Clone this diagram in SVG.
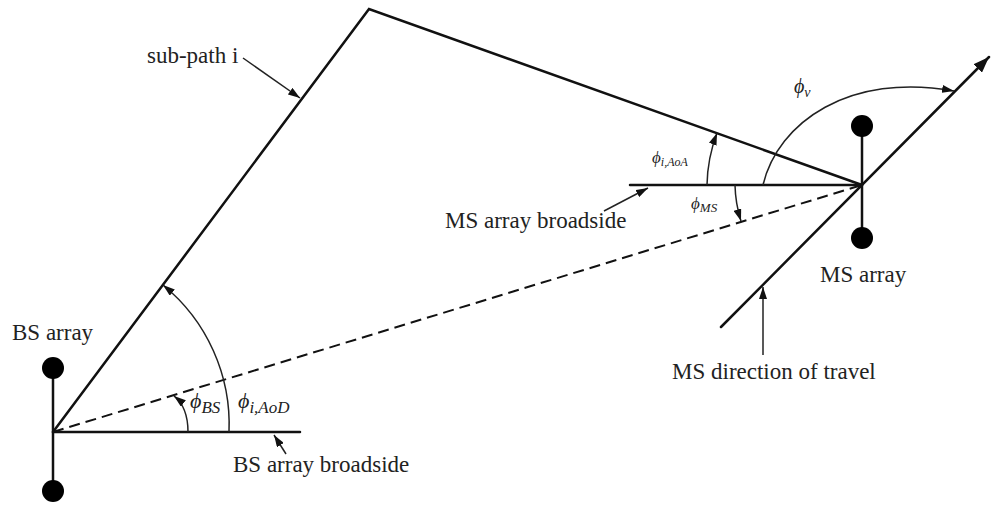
<svg xmlns="http://www.w3.org/2000/svg" width="992" height="506" viewBox="0 0 992 506">
  <style>
    .thick { stroke: #111; stroke-width: 2.5; fill: none; stroke-linecap: round; }
    .thin { stroke: #222; stroke-width: 1.5; fill: none; }
    .dash { stroke: #111; stroke-width: 2; fill: none; stroke-dasharray: 11 6; }
    .dot { fill: #000; }
    .lbl { font-family: "Liberation Serif", "Times New Roman", serif; font-size: 23px; fill: #222; }
    .sym { font-family: "Liberation Serif", "Times New Roman", serif; font-style: italic; fill: #222; }
  </style>
  <defs>
    <marker id="arr" viewBox="0 0 12 8" refX="12" refY="4" markerWidth="12" markerHeight="8" markerUnits="userSpaceOnUse" orient="auto">
      <path d="M0,0 L12,4 L0,8 Z" fill="#111"/>
    </marker>
    <marker id="arrBig" viewBox="0 0 16 12" refX="16" refY="6" markerWidth="16" markerHeight="12" markerUnits="userSpaceOnUse" orient="auto">
      <path d="M0,0 L16,6 L0,12 Z" fill="#111"/>
    </marker>
  </defs>

  <rect width="992" height="506" fill="#fff"/>

  <g id="connectors">
    <!-- sub-path i -->
    <polyline class="thick" points="53,432 369,9 862,185"/>
    <!-- line of sight (dashed) -->
    <line class="dash" x1="53" y1="432" x2="862" y2="185"/>
    <!-- BS broadside -->
    <line class="thick" x1="53" y1="432" x2="300" y2="432"/>
    <!-- MS broadside -->
    <line class="thick" x1="630" y1="185" x2="862" y2="185"/>
    <!-- MS direction of travel -->
    <line class="thick" x1="721" y1="327" x2="989" y2="57" marker-end="url(#arrBig)"/>
    <!-- angle arcs -->
    <path class="thin" d="M188,432 C188,418 184,404 174,396" marker-end="url(#arr)"/>
    <path class="thin" d="M229,432 A180,180 0 0 0 163,285" marker-end="url(#arr)"/>
    <path class="thin" d="M707,185 A155,155 0 0 1 717,133" marker-end="url(#arr)"/>
    <path class="thin" d="M735,185 A127,127 0 0 0 741,221" marker-end="url(#arr)"/>
    <path class="thin" d="M763,185 C778,122 850,72 954,91" marker-end="url(#arr)"/>
    <!-- label pointers -->
    <line class="thin" x1="243" y1="58" x2="300" y2="98" marker-end="url(#arr)"/>
    <line class="thin" x1="286" y1="454" x2="274" y2="435" marker-end="url(#arr)"/>
    <line class="thin" x1="604" y1="211" x2="648" y2="188" marker-end="url(#arr)"/>
    <line class="thin" x1="763" y1="355" x2="763" y2="287" marker-end="url(#arr)"/>
  </g>

  <g id="bs-array">
    <line class="thick" x1="53" y1="368" x2="53" y2="491"/>
    <circle class="dot" cx="53" cy="368" r="11"/>
    <circle class="dot" cx="53" cy="491" r="11"/>
    <text class="lbl" x="12" y="340">BS array</text>
  </g>

  <g id="ms-array">
    <line class="thick" x1="862" y1="126" x2="862" y2="238"/>
    <circle class="dot" cx="862" cy="126" r="11"/>
    <circle class="dot" cx="862" cy="238" r="11"/>
    <text class="lbl" x="820" y="282">MS array</text>
  </g>

  <g id="labels">
    <text class="lbl" x="147" y="63">sub-path i</text>
    <text class="lbl" x="233" y="472">BS array broadside</text>
    <text class="lbl" x="445" y="228">MS array broadside</text>
    <text class="lbl" x="672" y="379">MS direction of travel</text>
  </g>

  <g id="angles">
    <text class="sym" x="190" y="408" font-size="22">ϕ<tspan font-size="17" dy="5">BS</tspan></text>
    <text class="sym" x="238" y="408" font-size="22">ϕ<tspan font-size="17" dy="5">i,AoD</tspan></text>
    <text class="sym" x="652" y="163" font-size="17">ϕ<tspan font-size="12" dy="3">i,AoA</tspan></text>
    <text class="sym" x="691" y="209" font-size="17">ϕ<tspan font-size="13" dy="3">MS</tspan></text>
    <text class="sym" x="794" y="93" font-size="20">ϕ<tspan font-size="14" dy="4">v</tspan></text>
  </g>
</svg>
